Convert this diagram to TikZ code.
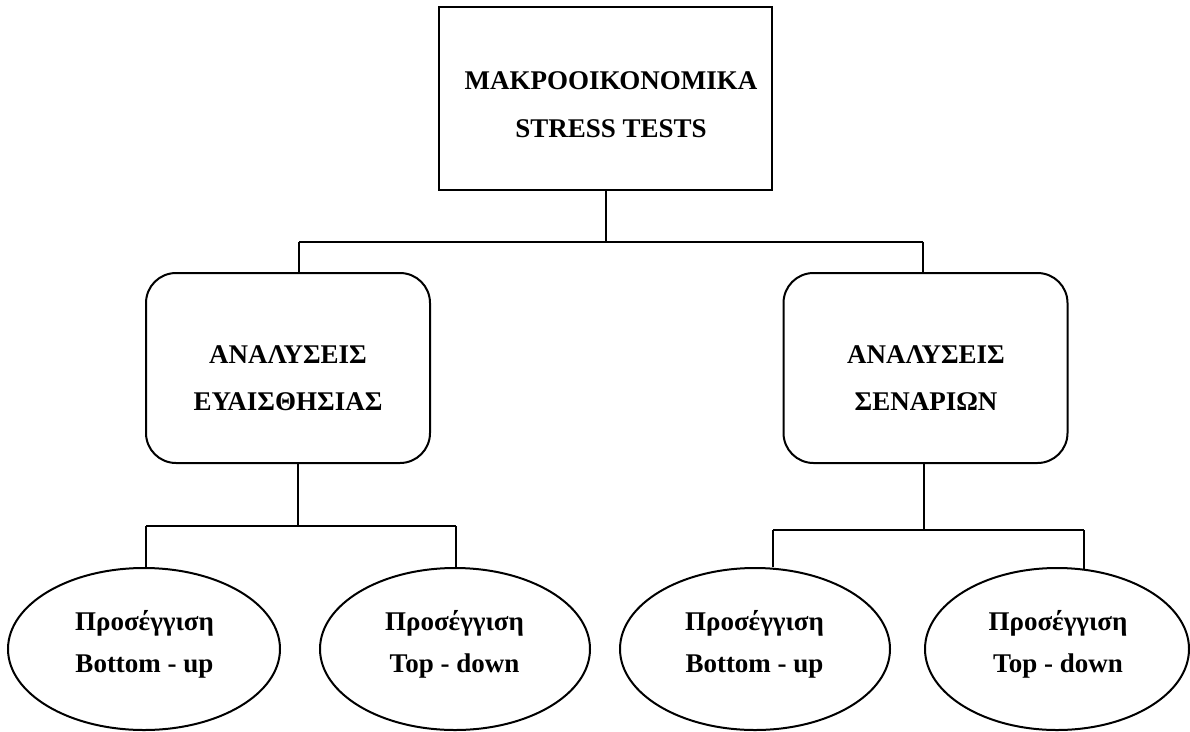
\documentclass[tikz,border=0pt]{standalone}
\usepackage{fontspec}
\setmainfont{Liberation Serif}
\usetikzlibrary{shapes.geometric}
\begin{document}
\begin{tikzpicture}[x=1pt,y=-1pt,line width=2pt,
  box/.style={draw,rectangle,inner sep=0pt},
  rbox/.style={draw,rectangle,rounded corners=30pt,inner sep=0pt,minimum width=284pt,minimum height=190pt},
  oval/.style={draw,ellipse,inner sep=0pt,minimum height=162pt},
  txt/.style={anchor=base,inner sep=0pt,font=\fontsize{27}{30}\selectfont\bfseries}]
\useasboundingbox (0,0) rectangle (1190,731);
% shapes
\node[box,minimum width=333pt,minimum height=183pt] (top) at (605.5,98.5) {};
\node[rbox] (L) at (288,368) {};
\node[rbox] (R) at (925.5,368) {};
\node[oval,minimum width=272pt] (E1) at (144,649) {};
\node[oval,minimum width=270pt] (E2) at (455,649) {};
\node[oval,minimum width=270pt] (E3) at (755,649) {};
\node[oval,minimum width=264pt] (E4) at (1057,649) {};
% texts
\node[txt] (topa) at (611,89) {ΜΑΚΡΟΟΙΚΟΝΟΜΙΚΑ};
\node[txt] (topb) at (611,137) {STRESS TESTS};
\node[txt] (La) at (288,363) {ΑΝΑΛΥΣΕΙΣ};
\node[txt] (Lb) at (288,410) {ΕΥΑΙΣΘΗΣΙΑΣ};
\node[txt] (Ra) at (926,363) {ΑΝΑΛΥΣΕΙΣ};
\node[txt] (Rb) at (926,410) {ΣΕΝΑΡΙΩΝ};
\node[txt] (E1a) at (144.5,630) {Προσέγγιση};
\node[txt] (E1b) at (144.5,672) {Bottom - up};
\node[txt] (E2a) at (454.5,630) {Προσέγγιση};
\node[txt] (E2b) at (454.5,672) {Top - down};
\node[txt] (E3a) at (754.5,630) {Προσέγγιση};
\node[txt] (E3b) at (754.5,672) {Bottom - up};
\node[txt] (E4a) at (1058,630) {Προσέγγιση};
\node[txt] (E4b) at (1058,672) {Top - down};
% connectors
\coordinate (hub) at (605.5,241.5);
\coordinate (hubL) at (299,241.5);
\coordinate (hubR) at (923,241.5);
\draw (top.south) -- (hub);
\draw (hubL) -- (hubR);
\draw (hubL) -- (hubL |- L.north);
\draw (hubR) -- (hubR |- R.north);
\coordinate (jL) at (298,526);
\coordinate (jL1) at (146,526);
\coordinate (jL2) at (456,526);
\draw (jL |- L.south) -- (jL);
\draw (jL1) -- (jL2);
\draw (jL1) -- (jL1 |- E1.north);
\draw (jL2) -- (jL2 |- E2.north);
\coordinate (jR) at (924,530);
\coordinate (jR1) at (773,530);
\coordinate (jR2) at (1084,530);
\draw (jR |- R.south) -- (jR);
\draw (jR1) -- (jR2);
\draw (jR1) -- (jR1 |- E3.north);
\draw (jR2) -- ([yshift=-1.5pt]jR2 |- E4.north);
\end{tikzpicture}
\end{document}
